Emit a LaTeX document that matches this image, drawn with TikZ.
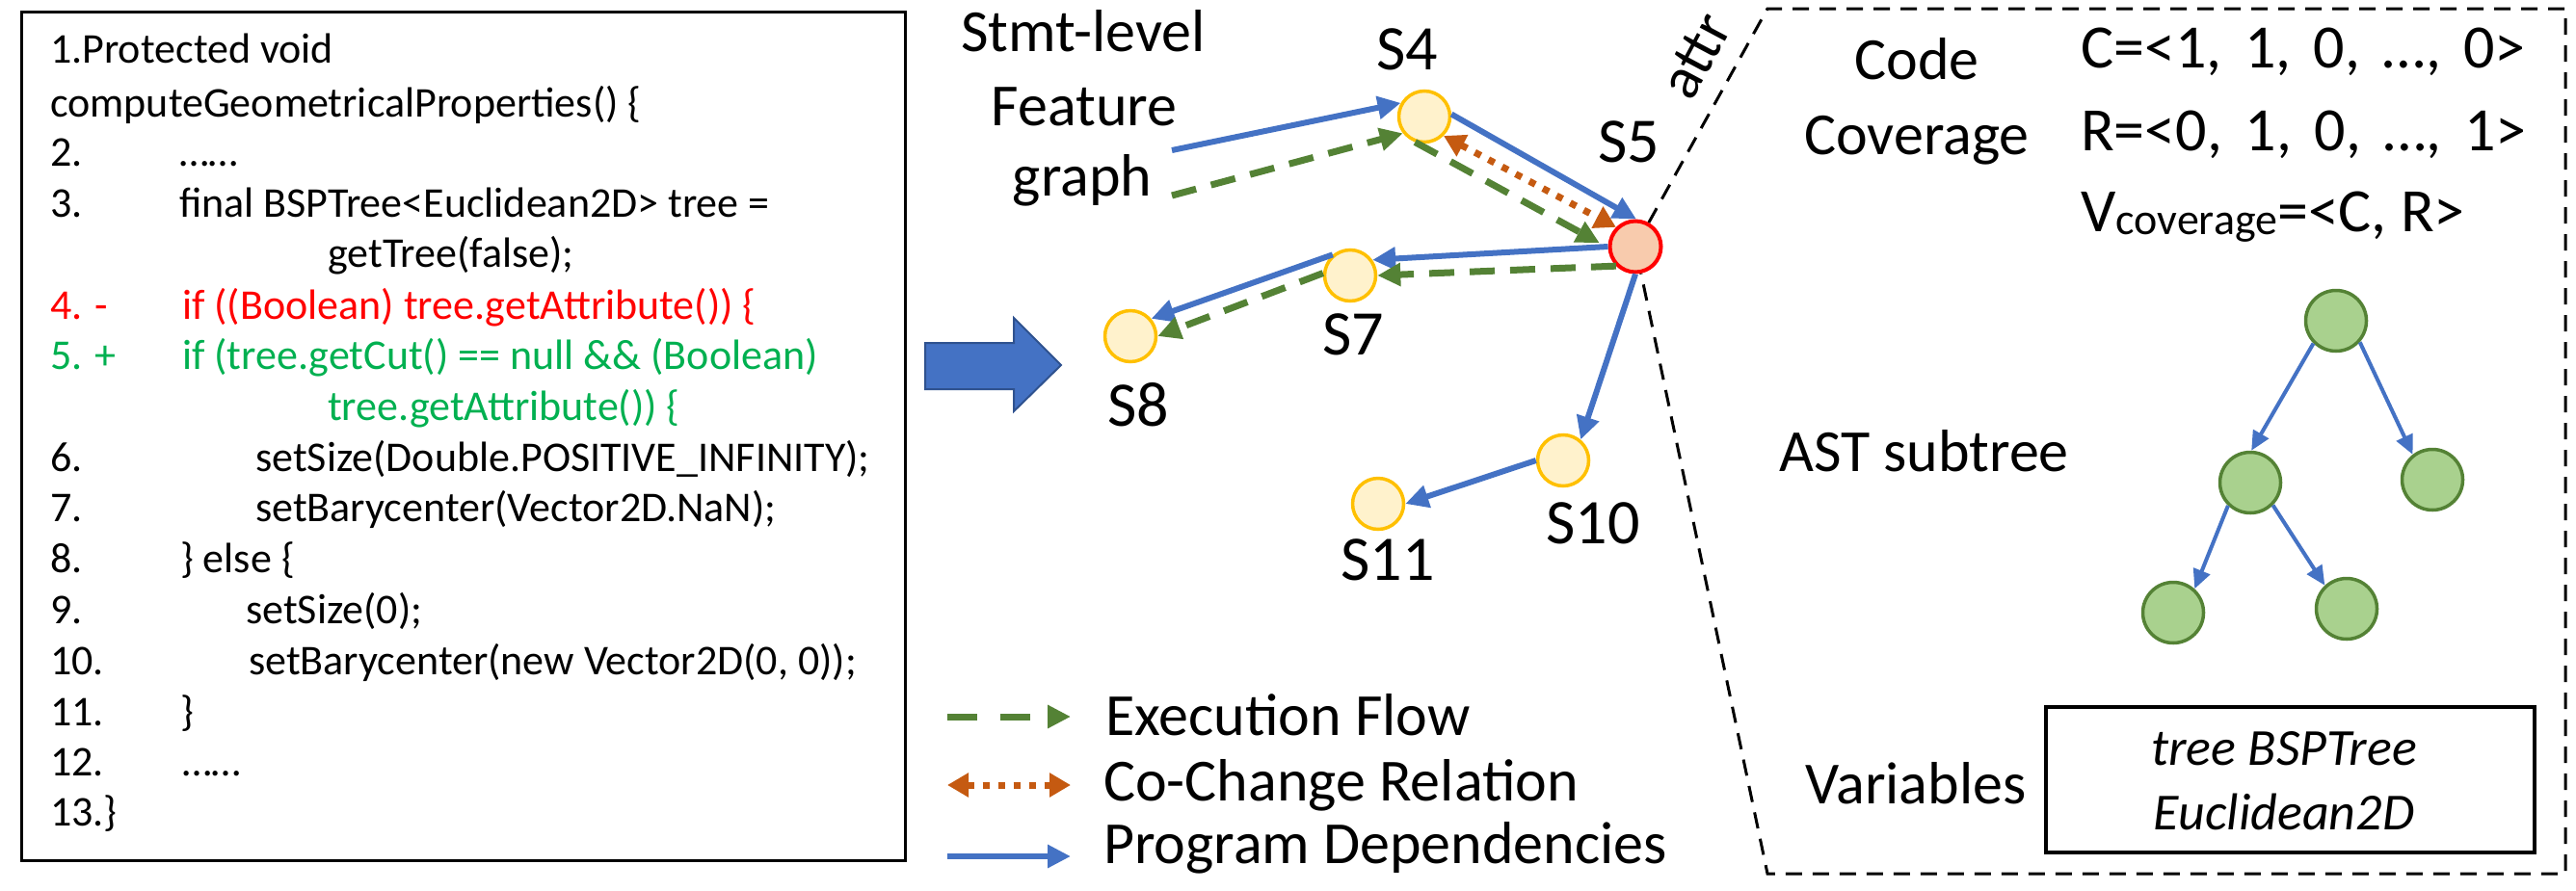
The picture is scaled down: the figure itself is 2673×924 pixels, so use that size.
\documentclass[tikz,border=0pt]{standalone}
\usepackage{fontspec}
\setmainfont{Carlito}
\usetikzlibrary{arrows.meta}
\definecolor{pblue}{RGB}{68,114,196}
\definecolor{pbluedark}{RGB}{47,82,143}
\definecolor{egreen}{RGB}{84,130,53}
\definecolor{corange}{RGB}{197,90,17}
\definecolor{nfill}{RGB}{255,242,204}
\definecolor{nborder}{RGB}{255,192,0}
\definecolor{sfivefill}{RGB}{248,203,173}
\definecolor{tfill}{RGB}{169,209,142}
\definecolor{codered}{RGB}{255,0,0}
\definecolor{codegreen}{RGB}{0,176,80}
\newcommand{\fsz}[1]{\fontsize{#1}{#1}\selectfont}
\begin{document}
\begin{tikzpicture}[x=1pt,y=-1pt,
  code/.style={anchor=base west, inner sep=0pt, font=\fsz{44}},
  big/.style={inner sep=0pt, font=\fsz{62}},
  slabel/.style={anchor=base, inner sep=0pt, font=\fsz{66}},
  stmtnode/.style={circle, draw=nborder, fill=nfill, line width=3.5pt, minimum size=53pt, inner sep=0pt},
  keynode/.style={circle, draw=codered, fill=sfivefill, line width=4pt, minimum size=53pt, inner sep=0pt},
  astnode/.style={circle, draw=egreen, fill=tfill, line width=3.5pt, minimum size=63pt, inner sep=0pt},
  pdep/.style={draw=pblue, line width=6pt, -{Triangle[length=24pt,width=23pt]}},
  exec/.style={draw=egreen, line width=7pt, dash pattern=on 26pt off 16pt, -{Triangle[length=24pt,width=23pt]}},
  cochg/.style={draw=corange, line width=7pt, dash pattern=on 7pt off 9pt, {Triangle[length=22pt,width=24pt]}-{Triangle[length=22pt,width=24pt]}},
  astedge/.style={draw=pblue, line width=4pt, -{Triangle[length=20pt,width=18pt]}},
  attrline/.style={draw=black, line width=3pt, dash pattern=on 17pt off 11pt}
]
\useasboundingbox (0,0) rectangle (2673,924);

% ---------- code box ----------
\draw[line width=3pt] (22,12) rectangle (939,893);
\node[code] (c1) at (52,65) {1.Protected void};
\node[code] (c1b) at (52,121) {computeGeometricalProperties() \{};
\node[code] (c2) at (52,172) {2.};
\node[code] (c2b) at (186,172) {……};
\node[code] (c3) at (52,225) {3.};
\node[code] (c3b) at (186,225) {final BSPTree<Euclidean2D> tree =};
\node[code] (c3c) at (340,277) {getTree(false);};
\node[code, text=codered] (c4) at (52,331) {4. -};
\node[code, text=codered] (c4b) at (189,331) {if ((Boolean) tree.getAttribute()) \{};
\node[code, text=codegreen] (c5) at (52,383) {5. +};
\node[code, text=codegreen] (c5b) at (189,383) {if (tree.getCut() == null \&\& (Boolean)};
\node[code, text=codegreen] (c5c) at (340,436) {tree.getAttribute()) \{};
\node[code] (c6) at (52,489) {6.};
\node[code] (c6b) at (265,489) {setSize(Double.POSITIVE\_INFINITY);};
\node[code] (c7) at (52,541) {7.};
\node[code] (c7b) at (265,541) {setBarycenter(Vector2D.NaN);};
\node[code] (c8) at (52,594) {8.};
\node[code] (c8b) at (187,594) {\} else \{};
\node[code] (c9) at (52,647) {9.};
\node[code] (c9b) at (255,647) {setSize(0);};
\node[code] (c10) at (52,700) {10.};
\node[code] (c10b) at (258,700) {setBarycenter(new Vector2D(0, 0));};
\node[code] (c11) at (52,753) {11.};
\node[code] (c11b) at (187,753) {\}};
\node[code] (c12) at (52,805) {12.};
\node[code] (c12b) at (189,805) {……};
\node[code] (c13) at (52,857) {13.\}};

% ---------- block arrow ----------
\draw[fill=pblue, draw=pbluedark, line width=2pt] (960,356) -- (1052,356) -- (1052,330) -- (1101,379) -- (1052,427) -- (1052,404) -- (960,404) -- cycle;

% ---------- graph ----------
\node[big, anchor=base] (t1) at (1124,53) {Stmt-level};
\node[big, anchor=base] (t2) at (1125,130) {Feature};
\node[big, anchor=base] (t3) at (1123,203) {graph};

\node[stmtnode] (S4) at (1478,121) {};
\node[keynode] (S5) at (1697,256) {};
\node[stmtnode] (S7) at (1401,286) {};
\node[stmtnode] (S8) at (1173,349) {};
\node[stmtnode] (S10) at (1622,478) {};
\node[stmtnode] (S11) at (1430,523) {};

\node[slabel] (L4) at (1460,72) {S4};
\node[slabel] (L5) at (1690,168) {S5};
\node[slabel] (L7) at (1404,368) {S7};
\node[slabel] (L8) at (1181,442) {S8};
\node[slabel] (L10) at (1653,564) {S10};
\node[slabel] (L11) at (1440,602) {S11};

\coordinate (fb) at (1216,156);
\coordinate (fg) at (1216,203);

\draw[pdep] (fb) -- (S4.150);
\draw[exec] (fg) -- (S4.218);
\draw[pdep] (S4.5) -- (S5.88);
\draw[exec, shorten >=10pt] (S4.250) -- (S5.182);
\draw[cochg] (S4.315) -- (S5.135);
\draw[pdep] (S5.180) -- (S7.35);
\draw[exec] (S5.225) -- (S7.0);
\draw[pdep] (S7.130) -- (S8.40);
\draw[exec] (S7.175) -- (S8.0);
\draw[pdep] (S5.270) -- (S10.50);
\draw[pdep] (S10.180) -- (S11.0);

% ---------- legend ----------
\coordinate (la1) at (983,744); \coordinate (la2) at (1111,744);
\coordinate (lb1) at (983,815); \coordinate (lb2) at (1111,815);
\coordinate (lc1) at (983,889); \coordinate (lc2) at (1111,889);
\draw[exec, dash pattern=on 31pt off 24pt] (la1) -- (la2);
\draw[cochg] (lb1) -- (lb2);
\draw[pdep] (lc1) -- (lc2);
\node[big, anchor=base west] (lt1) at (1147,763) {Execution Flow};
\node[big, anchor=base west] (lt2) at (1145,831) {Co-Change Relation};
\node[big, anchor=base west] (lt3) at (1145,896) {Program Dependencies};

% ---------- attribute region ----------
\coordinate (rtl) at (1834,9);
\coordinate (rtr) at (2662,9);
\coordinate (rbr) at (2662,907);
\coordinate (rbl) at (1834,907);
\draw[attrline] (S5) -- (rtl) -- (rtr) -- (rbr) -- (rbl) -- (S5);
\node[big, rotate=62] (attr) at (1760,58) {attr};

\node[big, anchor=base] (cc1) at (1989,82) {Code};
\node[big, anchor=base] (cc2) at (1989,160) {Coverage};
\node[inner sep=0pt, anchor=base west, font=\fsz{64}] (vc) at (2159,70) {\spaceskip=23.5pt C=<1, 1, 0, …, 0>};
\node[inner sep=0pt, anchor=base west, font=\fsz{64}] (vr) at (2159,156) {\spaceskip=23.5pt R=<0, 1, 0, …, 1>};
\node[inner sep=0pt, anchor=base west, font=\fsz{64}] (vv) at (2159,240) {V\raisebox{-3pt}{\fsz{46}coverage}=<C, R>};

\node[big, anchor=base west] (ast) at (1846,489) {AST subtree};
\node[astnode] (a0) at (2424,333) {};
\node[astnode] (a1) at (2335,501) {};
\node[astnode] (a2) at (2524,498) {};
\node[astnode] (a3) at (2255,636) {};
\node[astnode] (a4) at (2435,632) {};
\draw[astedge] (a0.225) -- (a1.88);
\draw[astedge] (a0.318) -- (a2.128);
\draw[astedge] (a1.226) -- (a3.48);
\draw[astedge] (a1.315) -- (a4.133);

\node[big, anchor=base] (var) at (1988,834) {Variables};
\draw[line width=3.5pt] (2123,734) rectangle (2630,885);
\node[inner sep=0pt, anchor=base, font=\fsz{54}\itshape] (v1) at (2370,794) {tree BSPTree};
\node[inner sep=0pt, anchor=base, font=\fsz{54}\itshape] (v2) at (2370,861) {Euclidean2D};
\end{tikzpicture}
\end{document}
